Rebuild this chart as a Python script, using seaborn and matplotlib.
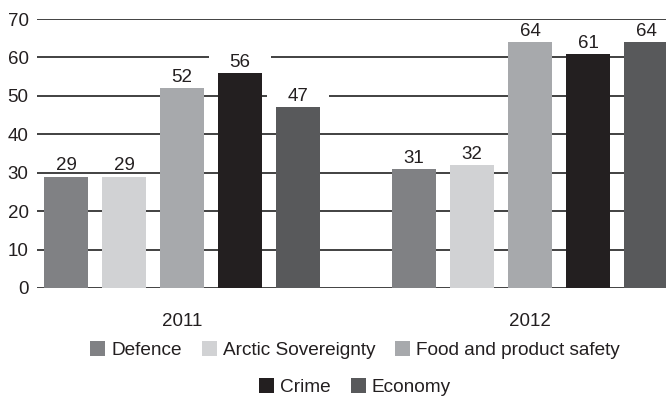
import numpy as np
import pandas as pd
import seaborn as sns
import matplotlib.pyplot as plt
from matplotlib.patches import Patch
from matplotlib.path import Path

# Survey data: share naming each issue, by year
years = ["2011", "2012"]
issues = ["Defence", "Arctic Sovereignty", "Food and product safety", "Crime", "Economy"]
defence = [29, 31]
arctic = [29, 32]
food = [52, 64]
crime = [56, 61]
economy = [47, 64]
colors = ["#808184", "#d1d2d4", "#a7a9ac", "#231f20", "#58595b"]
y_ticks = [0, 10, 20, 30, 40, 50, 60, 70]

series = [defence, arctic, food, crime, economy]
df = pd.DataFrame({
    "year": years * len(issues),
    "issue": np.repeat(issues, len(years)),
    "value": [v for s in series for v in s],
})

sns.set_theme(style="white")
plt.rcParams["font.family"] = ["Liberation Sans", "DejaVu Sans"]
FS = 13.5
LEG_FS = 13.7


class WideBox:
    """Rectangle padded sideways but hugging the digits vertically,
    so value labels cut the grid lines only where they sit on them."""

    def __init__(self, padx=1.1, bottom=0.2, top=0.12):
        self.padx = padx
        self.bottom = bottom
        self.top = top

    def __call__(self, x0, y0, width, height, mutation_size):
        px = self.padx * mutation_size
        xa, xb = x0 - px, x0 + width + px
        ya = y0 + self.bottom * mutation_size
        yb = y0 + height - self.top * mutation_size
        return Path([(xa, ya), (xb, ya), (xb, yb), (xa, yb), (xa, ya)],
                    closed=True)


fig = plt.figure(figsize=(6.66, 3.99), dpi=100)
ax = fig.add_axes([37 / 666, 1 - 288 / 399, 1 - 37 / 666, (288 - 19) / 399])

sns.barplot(data=df, x="year", y="value", hue="issue", hue_order=issues,
            palette=colors, saturation=1, width=0.833, gap=0.24,
            errorbar=None, linewidth=0, legend=False, ax=ax)

for cont in ax.containers:
    ax.bar_label(cont, padding=1.5, fontsize=FS, color="#231f20",
                 bbox=dict(boxstyle=WideBox(), fc="white", ec="none"),
                 clip_on=False)

ax.set_ylim(0, 70)
ax.set_yticks(y_ticks)
ax.set_xlim(-0.4167, 1.3908)
ax.set_axisbelow(True)
ax.yaxis.grid(True, color="#333333", linewidth=1.3)
ax.xaxis.grid(False)
for s in ax.spines.values():
    s.set_visible(False)
ax.tick_params(axis="y", length=0, pad=6, labelsize=FS, labelcolor="#231f20")
ax.tick_params(axis="x", length=0, pad=18, labelsize=FS, labelcolor="#231f20")
ax.set_xlabel("")
ax.set_ylabel("")

# Legend in two centred rows
handles = [Patch(facecolor=c, edgecolor="none") for c in colors]
leg_kw = dict(frameon=False, fontsize=LEG_FS, handlelength=0.79, handleheight=0.79,
              handletextpad=0.32, columnspacing=1.03, borderaxespad=0,
              borderpad=0, labelcolor="#231f20")
cx = 355 / 666
fig.legend(handles[:3], issues[:3], ncol=3, loc="center",
           bbox_to_anchor=(cx, 1 - 350 / 399), **leg_kw)
fig.legend(handles[3:], issues[3:], ncol=2, loc="center",
           bbox_to_anchor=(cx, 1 - 387 / 399), **leg_kw)

fig.savefig("out.png", dpi=100)
